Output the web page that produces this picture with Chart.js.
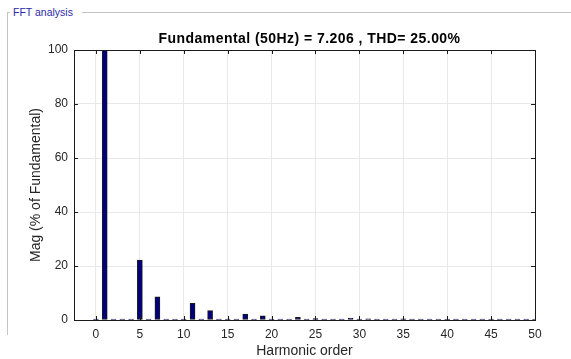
<!DOCTYPE html>
<html>
<head>
<meta charset="utf-8">
<script src="https://cdn.jsdelivr.net/npm/chart.js@4/dist/chart.umd.min.js"></script>
<style>
  html, body { margin: 0; padding: 0; background: #ffffff; }
  #wrap { position: relative; width: 571px; height: 359px; overflow: hidden; }
  #frame {
    position: absolute; left: 7px; top: 12px; width: 580px; height: 322px;
    border-left: 1px solid #c4c4c4; border-top: 1px solid #c4c4c4;
  }
  #legendTxt {
    position: absolute; left: 10px; top: 5px; padding: 0 9px 0 3px;
    background: #ffffff; color: #2a2aa8;
    font: 10.5px Arial, "Liberation Sans", sans-serif; line-height: 14px;
  }
  #c { position: absolute; left: 0; top: 0; }
</style>
</head>
<body>
<div id="wrap">
  <div id="frame"></div>
  <div id="legendTxt">FFT analysis</div>
  <canvas id="c" width="571" height="359"></canvas>
</div>
<script>
// Harmonic orders 0..50 and their magnitudes (% of fundamental)
const harmonicOrders = [];
for (let h = 0; h <= 50; h++) harmonicOrders.push(h);

const oddHarmonics = [1, 5, 7, 11, 13, 17, 19, 23, 25, 29, 31, 35, 37, 41, 43, 47, 49];
const oddMagnitudes = [100, 22.2, 8.6, 6.2, 3.5, 2.2, 1.5, 1.0, 0.5, 0.75, 0.4, 0.4, 0.35, 0.3, 0.3, 0.25, 0.25];

const magnitudes = harmonicOrders.map(h => {
  const i = oddHarmonics.indexOf(h);
  return i >= 0 ? oddMagnitudes[i] : 0;
});

const xTicks = [0, 5, 10, 15, 20, 25, 30, 35, 40, 45, 50];
const yTicks = [0, 20, 40, 60, 80, 100];

const titleText = 'Fundamental (50Hz) = 7.206 , THD= 25.00%';

const FONT = 'Arial, "Liberation Sans", sans-serif';
const TXT = '#262626';

// Axes box with inward tick marks on all four sides, plus the bold title
const boxPlugin = {
  id: 'boxTicks',
  afterDatasetsDraw(chart) {
    const { ctx, chartArea: a, scales } = chart;
    ctx.save();
    ctx.strokeStyle = '#1a1a1a';
    ctx.lineWidth = 1;
    const tl = 4;
    ctx.beginPath();
    xTicks.forEach(v => {
      const x = Math.round(scales.x.getPixelForValue(v)) + 0.5;
      ctx.moveTo(x, a.bottom); ctx.lineTo(x, a.bottom - tl);
      ctx.moveTo(x, a.top); ctx.lineTo(x, a.top + tl);
    });
    yTicks.forEach(v => {
      const y = Math.round(scales.y.getPixelForValue(v)) + 0.5;
      ctx.moveTo(a.left, y); ctx.lineTo(a.left + tl, y);
      ctx.moveTo(a.right, y); ctx.lineTo(a.right - tl, y);
    });
    ctx.stroke();
    ctx.strokeRect(Math.round(a.left) + 0.5, Math.round(a.top) + 0.5,
                   Math.round(a.right - a.left), Math.round(a.bottom - a.top));

    ctx.fillStyle = '#000000';
    ctx.font = 'bold 14px ' + FONT;
    if ('letterSpacing' in ctx) ctx.letterSpacing = '0.45px';
    ctx.textAlign = 'center';
    ctx.textBaseline = 'alphabetic';
    ctx.fillText(titleText, (a.left + a.right) / 2 + 5, a.top - 7);
    ctx.restore();
  }
};

new Chart(document.getElementById('c'), {
  type: 'bar',
  data: {
    datasets: [{
      data: harmonicOrders.map((h, i) => ({ x: h, y: magnitudes[i] })),
      backgroundColor: '#00007f',
      borderColor: '#1a1a1a',
      borderWidth: 1,
      borderSkipped: false,
      barThickness: 5,
      minBarLength: 1
    }]
  },
  options: {
    responsive: false,
    animation: false,
    events: [],
    layout: { padding: { left: 0, right: 36, top: 50, bottom: 0 } },
    plugins: {
      legend: { display: false },
      tooltip: { enabled: false },
      title: { display: false }
    },
    scales: {
      x: {
        type: 'linear',
        min: -2.5,
        max: 50,
        offset: false,
        afterBuildTicks(scale) { scale.ticks = xTicks.map(v => ({ value: v })); },
        afterFit(scale) { scale.height = 39; },
        grid: { color: '#e8e8e8', drawTicks: false, lineWidth: 1, offset: false },
        border: { display: false },
        ticks: { color: TXT, font: { family: FONT, size: 12 }, padding: 7, maxRotation: 0 },
        title: {
          display: true, text: 'Harmonic order', color: TXT,
          font: { family: FONT, size: 14 }, padding: { top: 0, bottom: -1 }
        }
      },
      y: {
        min: 0,
        max: 100,
        afterBuildTicks(scale) { scale.ticks = yTicks.map(v => ({ value: v })); },
        afterFit(scale) { scale.width = 74; },
        grid: { color: '#e8e8e8', drawTicks: false, lineWidth: 1 },
        border: { display: false },
        ticks: { color: TXT, font: { family: FONT, size: 12 }, padding: 6 },
        title: {
          display: true, text: 'Mag (% of Fundamental)', color: TXT,
          font: { family: FONT, size: 14 }, padding: { top: 27.5, bottom: 0 }
        }
      }
    }
  },
  plugins: [boxPlugin]
});
</script>
</body>
</html>
